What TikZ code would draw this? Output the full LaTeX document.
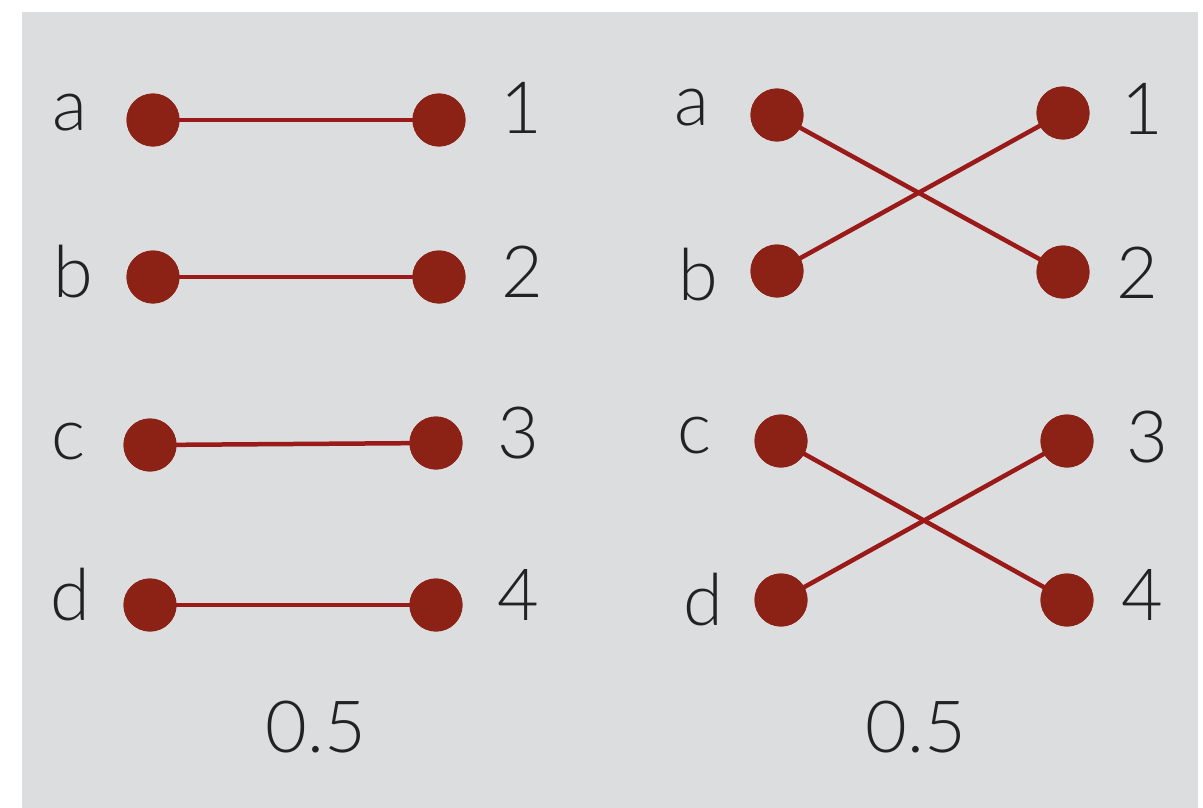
\documentclass[tikz,border=0pt]{standalone}
\usepackage{fontspec}
\setmainfont{Lato Light}
\definecolor{bg}{HTML}{DCDDDF}
\definecolor{dot}{HTML}{8C2116}
\definecolor{edge}{HTML}{9A1A1A}
\definecolor{ink}{HTML}{222222}
\begin{document}
\begin{tikzpicture}[x=1pt,y=-1pt,
  pt/.style={circle,fill=dot,minimum size=53pt,inner sep=0pt},
  lab/.style={anchor=base,text=ink,font=\fontsize{72}{72}\selectfont},
  ln/.style={draw=edge,line width=4.5pt}]
\useasboundingbox (0,0) rectangle (1203,808);
\fill[bg] (22,12) rectangle (1198,808);
% left panel
\node[pt] (la) at (153,120) {};
\node[pt] (lb) at (153,277) {};
\node[pt] (lc) at (150,445) {};
\node[pt] (ld) at (150,605) {};
\node[pt] (l1) at (439,120) {};
\node[pt] (l2) at (439,277) {};
\node[pt] (l3) at (436,443) {};
\node[pt] (l4) at (436,605) {};
\draw[ln] (la.center) -- (l1.center);
\draw[ln] (lb.center) -- (l2.center);
\draw[ln] (lc.center) -- (l3.center);
\draw[ln] (ld.center) -- (l4.center);
\node[pt] at (la) {};\node[pt] at (lb) {};\node[pt] at (lc) {};\node[pt] at (ld) {};
\node[pt] at (l1) {};\node[pt] at (l2) {};\node[pt] at (l3) {};\node[pt] at (l4) {};
\node[lab] (tla) at (70,131) {a};
\node[lab] (tlb) at (73,297) {b};
\node[lab] (tlc) at (68,459) {c};
\node[lab] (tld) at (70,620) {d};
\node[lab] (tl1) at (521,133) {1};
\node[lab] (tl2) at (522,297) {2};
\node[lab] (tl3) at (518,458) {3};
\node[lab] (tl4) at (518,620) {4};
\node[lab] (tlv) at (316,752) {0.5};
% right panel
\node[pt] (ra) at (777,115) {};
\node[pt] (rb) at (777,271) {};
\node[pt] (rc) at (781,441) {};
\node[pt] (rd) at (781,600) {};
\node[pt] (r1) at (1063,113) {};
\node[pt] (r2) at (1063,272) {};
\node[pt] (r3) at (1067,441) {};
\node[pt] (r4) at (1067,600) {};
\draw[ln] (ra.center) -- (r2.center);
\draw[ln] (rb.center) -- (r1.center);
\draw[ln] (rc.center) -- (r4.center);
\draw[ln] (rd.center) -- (r3.center);
\node[pt] at (ra) {};\node[pt] at (rb) {};\node[pt] at (rc) {};\node[pt] at (rd) {};
\node[pt] at (r1) {};\node[pt] at (r2) {};\node[pt] at (r3) {};\node[pt] at (r4) {};
\node[lab] (tra) at (692,125) {a};
\node[lab] (trb) at (698,300) {b};
\node[lab] (trc) at (694,453) {c};
\node[lab] (trd) at (703,625) {d};
\node[lab] (tr1) at (1142,135) {1};
\node[lab] (tr2) at (1137,298) {2};
\node[lab] (tr3) at (1147,462) {3};
\node[lab] (tr4) at (1142,620) {4};
\node[lab] (trv) at (916,752) {0.5};
\end{tikzpicture}
\end{document}
